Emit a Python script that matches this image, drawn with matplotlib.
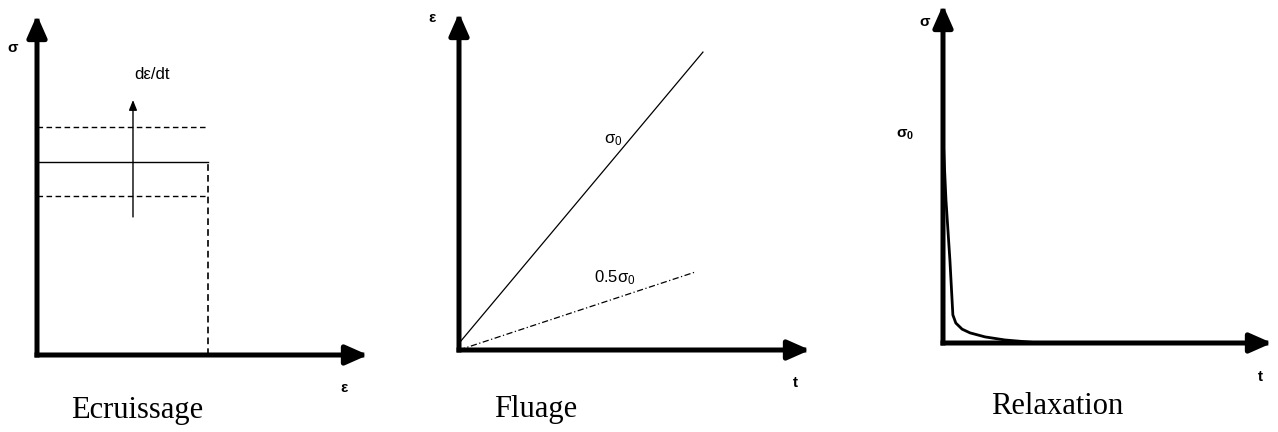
import matplotlib.pyplot as plt

plt.rcParams["font.family"] = ["Liberation Sans", "DejaVu Sans"]
plt.rcParams["mathtext.fontset"] = "custom"
plt.rcParams["mathtext.rm"] = "Liberation Sans"
plt.rcParams["mathtext.it"] = "Liberation Sans"
plt.rcParams["mathtext.default"] = "regular"

# Ecrouissage: stress plateaus for three strain rates
HARD_STRAIN_END = 5.17
HARD_LEVEL_LOW = 4.68
HARD_LEVEL_MID = 5.68
HARD_LEVEL_HIGH = 6.7
RATE_ARROW_X = 2.9
RATE_ARROW_Y = [4.06, 7.5]

# Fluage: strain vs time for sigma0 and 0.5 sigma0
CREEP_T = [0.0, 6.95]
CREEP_FULL = [0.2, 8.84]
CREEP_HALF_T = [0.0, 6.72]
CREEP_HALF = [0.0, 2.31]

# Relaxation: stress vs time
RELAX_T = [0.0, 0.09, 0.21, 0.30, 0.39, 0.58, 0.82, 1.28, 1.88, 2.95]
RELAX_SIGMA = [6.15, 4.23, 2.45, 0.83, 0.59, 0.41, 0.30, 0.18, 0.09, 0.0]

W, H = 1278, 432
fig = plt.figure(figsize=(W / 100, H / 100), dpi=100)


def panel(x0, y0, x1, y1):
    # x0, y0: origin in pixels; x1: end of horizontal axis; y1: top of vertical axis
    ax = fig.add_axes([x0 / W, (H - y0) / H, (x1 - x0) / W, (y0 - y1) / H])
    ax.set_xlim(0, 10)
    ax.set_ylim(0, 10)
    ax.axis("off")
    arrow = dict(arrowstyle="-|>,head_length=0.95,head_width=0.42",
                 lw=3.6, color="black", mutation_scale=14,
                 shrinkA=0, shrinkB=0, capstyle="projecting")
    ax.annotate("", xy=(10, 0), xytext=(0, 0), arrowprops=arrow,
                annotation_clip=False)
    ax.annotate("", xy=(0, 10), xytext=(0, 0), arrowprops=arrow,
                annotation_clip=False)
    return ax


serif = dict(family="Liberation Serif", fontsize=22, ha="center", va="center")
small = dict(fontsize=11, ha="center", va="center", fontweight="bold")

# --- Ecruissage ---
ax1 = panel(37, 355, 368, 15)
dash = (0, (4, 2.5))
ax1.plot([0, HARD_STRAIN_END], [HARD_LEVEL_HIGH] * 2, color="black", lw=1, ls=dash)
ax1.plot([0, HARD_STRAIN_END], [HARD_LEVEL_LOW] * 2, color="black", lw=1, ls=dash)
ax1.plot([0, HARD_STRAIN_END], [HARD_LEVEL_MID] * 2, color="black", lw=1)
ax1.plot([HARD_STRAIN_END] * 2, [0, HARD_LEVEL_MID], color="black", lw=1.2, ls=dash)
ax1.annotate("", xy=(RATE_ARROW_X, RATE_ARROW_Y[1]),
             xytext=(RATE_ARROW_X, RATE_ARROW_Y[0]),
             arrowprops=dict(arrowstyle="-|>,head_length=0.5,head_width=0.2",
                             lw=1, color="black", mutation_scale=12,
                             shrinkA=0, shrinkB=0))
ax1.text(3.47, 8.24, "dε/dt", fontsize=12, ha="center", va="center")
ax1.text(-0.73, 9.03, "σ", **small)
ax1.text(9.27, -0.97, "ε", **small)
ax1.text(3.02, -1.62, "Ecruissage", **serif)

# --- Fluage ---
ax2 = panel(459, 350, 810, 13)
ax2.plot(CREEP_T, CREEP_FULL, color="black", lw=0.9)
ax2.plot(CREEP_HALF_T, CREEP_HALF, color="black", lw=0.9, ls=(0, (5, 2, 1, 2)))
ax2.text(4.39, 6.23, r"$\sigma_0$", fontsize=12, ha="center", va="center")
ax2.text(4.44, 2.14, r"0.5$\sigma_0$", fontsize=12, ha="center", va="center")
ax2.text(-0.77, 9.85, "ε", **small)
ax2.text(9.57, -0.98, "t", **small)
ax2.text(2.17, -1.78, "Fluage", **serif)

# --- Relaxation ---
ax3 = panel(943, 343, 1272, 5)
ax3.plot(RELAX_T, RELAX_SIGMA, color="black", lw=2, solid_joinstyle="round",
         clip_on=False)
ax3.text(-0.55, 9.5, "σ", **small)
ax3.text(-1.15, 6.15, r"$\sigma_0$", fontsize=11, ha="center", va="center",
         fontweight="bold")
ax3.text(9.64, -1.0, "t", **small)
ax3.text(3.47, -1.89, "Relaxation", **serif)

fig.savefig("out.png", dpi=100)
